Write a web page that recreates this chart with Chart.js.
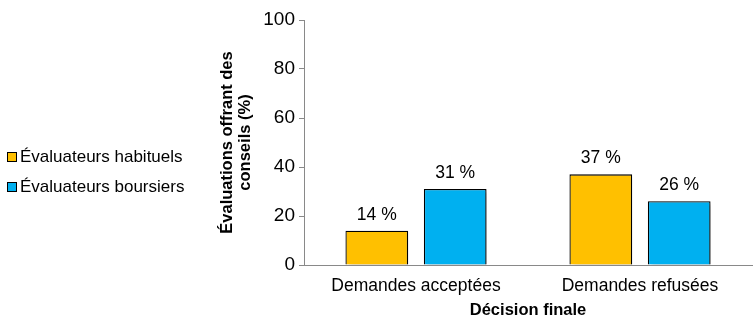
<!DOCTYPE html>
<html>
<head>
<meta charset="utf-8">
<script src="https://cdn.jsdelivr.net/npm/chart.js@4"></script>
<style>
  html, body { margin: 0; padding: 0; background: #fff; }
  #wrap { position: relative; width: 755px; height: 330px; }
  #legend { position: absolute; left: 7px; top: 146px; font: 17px "Liberation Sans", Arial, sans-serif; color: #000; }
  #legend div { height: 30px; line-height: 22px; white-space: nowrap; }
  #legend span { display: inline-block; width: 8px; height: 8px; border: 1px solid #000; margin-right: 3px; vertical-align: 0px; }
</style>
</head>
<body>
<div id="wrap">
  <canvas id="chart" width="755" height="330"></canvas>
  <div id="legend"></div>
</div>
<script>
const categories = ['Demandes acceptées', 'Demandes refusées'];
const seriesNames = ['Évaluateurs habituels', 'Évaluateurs boursiers'];
const habituels = [14, 37];
const boursiers = [31, 26];
const colours = ['#FFC000', '#00B0F0'];

const fontFamily = '"Liberation Sans", Arial, sans-serif';

// legend on the left, outside the canvas
const legendBox = document.getElementById('legend');
seriesNames.forEach((name, i) => {
  const row = document.createElement('div');
  row.innerHTML = `<span style="background:${colours[i]}"></span>${name}`;
  legendBox.appendChild(row);
});

// soft shadow behind the bars
const barShadow = {
  id: 'barShadow',
  beforeDatasetsDraw(chart) {
    const c = chart.ctx;
    c.save();
    c.shadowColor = 'rgba(0,0,0,0.3)';
    c.shadowBlur = 4;
    c.shadowOffsetX = 3;
    c.shadowOffsetY = 2;
  },
  afterDatasetsDraw(chart) {
    chart.ctx.restore();
  }
};

// "14 %" labels above each bar
const valueLabels = {
  id: 'valueLabels',
  afterDraw(chart) {
    const c = chart.ctx;
    c.save();
    c.font = '17.5px ' + fontFamily;
    c.fillStyle = '#000';
    c.textAlign = 'center';
    c.textBaseline = 'alphabetic';
    chart.data.datasets.forEach((ds, i) => {
      chart.getDatasetMeta(i).data.forEach((bar, j) => {
        c.fillText(ds.data[j] + ' %', bar.x, bar.y - 11);
      });
    });
    c.restore();
  }
};

new Chart(document.getElementById('chart').getContext('2d'), {
  type: 'bar',
  data: {
    labels: categories,
    datasets: [
      { label: seriesNames[0], data: habituels, backgroundColor: colours[0], borderColor: '#000', borderWidth: 1.3 },
      { label: seriesNames[1], data: boursiers, backgroundColor: colours[1], borderColor: '#000', borderWidth: 1.3 }
    ]
  },
  options: {
    responsive: false,
    animation: false,
    events: [],
    categoryPercentage: 0.70,
    barPercentage: 0.80,
    layout: { padding: { left: 212, right: 3, top: 20, bottom: 0 } },
    scales: {
      x: {
        grid: { display: false, drawTicks: false },
        border: { color: '#898989', width: 1 },
        ticks: { color: '#000', padding: 11, font: { family: fontFamily, size: 17.5 } },
        title: {
          display: true,
          text: 'Décision finale',
          color: '#000',
          font: { family: fontFamily, size: 16.5, weight: 'bold' },
          padding: { top: 0, bottom: 10 }
        },
        afterFit: s => { s.height = 65; }
      },
      y: {
        min: 0,
        max: 100,
        ticks: { stepSize: 20, color: '#000', padding: 4, font: { family: fontFamily, size: 19 } },
        grid: { drawOnChartArea: false, drawTicks: true, tickLength: 5, color: '#898989' },
        border: { color: '#898989', width: 1 },
        title: {
          display: true,
          text: ['Évaluations offrant des', 'conseils (%)'],
          color: '#000',
          font: { family: fontFamily, size: 16.5, weight: 'bold', lineHeight: 1.1 },
          padding: { top: 6, bottom: 0 }
        },
        afterFit: s => { s.width = 92; }
      }
    },
    plugins: {
      legend: { display: false },
      tooltip: { enabled: false }
    }
  },
  plugins: [barShadow, valueLabels]
});
</script>
</body>
</html>
